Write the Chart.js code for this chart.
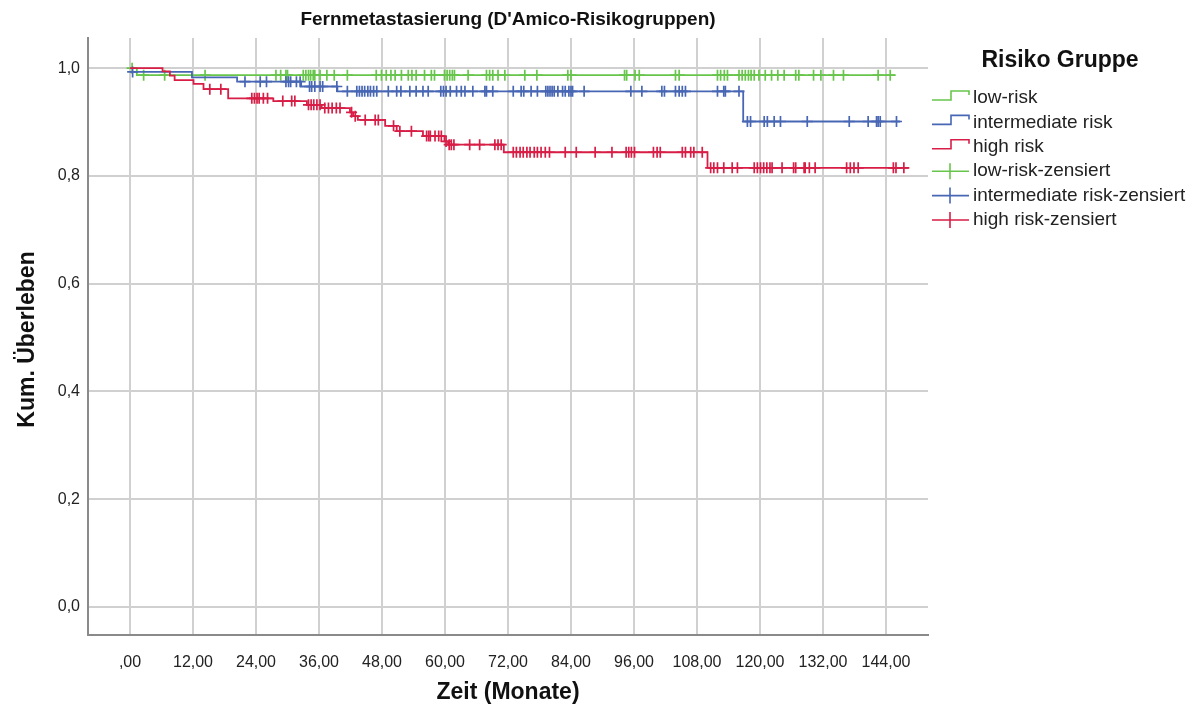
<!DOCTYPE html>
<html>
<head>
<meta charset="utf-8">
<script src="https://cdn.jsdelivr.net/npm/chart.js@4/dist/chart.umd.min.js"></script>
<style>
  html, body { margin: 0; padding: 0; background: #ffffff; }
  #wrap { width: 1200px; height: 711px; position: relative; }
</style>
</head>
<body>
<div id="wrap"><canvas id="c" width="1200" height="711"></canvas></div>
<script>
// ---------- DATA ----------
const chartTitle = "Fernmetastasierung (D'Amico-Risikogruppen)";
const xAxisTitle = "Zeit (Monate)";
const yAxisTitle = "Kum. Überleben";
const legendTitle = "Risiko Gruppe";
const groupNames = ["low-risk", "intermediate risk", "high risk"];
const censorSuffix = "-zensiert";

const xTicks = [0, 12, 24, 36, 48, 60, 72, 84, 96, 108, 120, 132, 144];
const yTicks = [0, 0.2, 0.4, 0.6, 0.8, 1.0];

// step-function points: event times (months) and survival after them; last entry = end of follow-up
const lowTimes = [0, 1.3, 145.7];
const lowSurv  = [1.0, 0.987, 0.987];

const intTimes = [0, 11.8, 20.4, 32.6, 39.5, 116.8, 146.7];
const intSurv  = [0.993, 0.983, 0.975, 0.966, 0.957, 0.901, 0.901];

const highTimes = [0, 6.2, 7.6, 8.5, 12.1, 14.0, 18.7, 27.3, 33.7, 36.5, 41.9, 42.5, 43.4, 48.6, 50.8, 55.8, 59.9, 60.6, 71.2, 110.0, 148.3];
const highSurv  = [1.0, 0.994, 0.986, 0.978, 0.971, 0.961, 0.944, 0.939, 0.932, 0.926, 0.918, 0.911, 0.904, 0.893, 0.883, 0.874, 0.864, 0.858, 0.844, 0.815, 0.815];

// censored observations (months)
const lowCensor = [0.4, 2.6, 6.6, 14.3, 27.8, 28.7, 29.7, 30.0, 33.0, 33.5, 34.0, 34.4, 34.9, 35.2, 36.2, 37.5, 38.9, 41.4,
  46.9, 47.9, 48.8, 49.7, 50.5, 51.7, 53.0, 53.7, 54.5, 56.1, 57.4, 58.0, 59.9, 60.4, 60.9, 61.4, 61.8, 64.4,
  67.9, 68.5, 69.1, 70.1, 71.4, 75.2, 77.5, 83.4, 84.0, 94.2, 94.6, 96.2, 97.0, 103.9, 104.6,
  111.9, 112.5, 113.2, 113.8, 116.0, 116.6, 117.2, 117.8, 118.3, 118.9, 119.8, 121.0, 122.2, 123.4, 124.6,
  126.8, 127.4, 130.2, 131.6, 134.0, 135.9, 142.5, 144.8];

const intCensor = [0.5, 21.9, 24.8, 26.0, 29.7, 30.2, 30.6, 31.7, 32.4, 34.2, 34.6, 35.2, 36.2, 36.7, 39.4, 41.4,
  43.2, 43.7, 44.2, 44.7, 45.3, 45.8, 46.4, 47.0, 49.2, 50.8, 51.6, 53.3, 54.5, 55.8, 56.8, 59.2, 59.7, 60.2, 61.0,
  62.2, 63.1, 63.8, 65.3, 67.6, 67.9, 69.1, 73.0, 74.5, 75.0, 76.4, 77.6, 79.2, 79.6, 80.0, 80.4, 80.8, 81.5,
  82.4, 82.9, 83.6, 84.0, 84.3, 86.5, 95.4, 97.5, 101.3, 101.8, 103.9, 104.6, 105.2, 105.8, 111.9, 113.1, 113.4, 116.0,
  117.6, 118.2, 120.8, 121.4, 122.7, 123.9, 129.0, 137.0, 140.6, 142.2, 142.5, 142.9, 146.0];

const highCensor = [15.2, 17.3, 23.2, 23.7, 24.2, 24.6, 25.4, 26.2, 29.1, 30.8, 31.4, 34.0, 34.5, 35.0, 35.6, 36.2,
  37.1, 37.8, 38.5, 39.3, 40.0, 42.2, 42.9, 44.8, 46.7, 47.3, 50.2, 51.4, 53.6, 56.5, 56.9, 57.2, 58.1, 58.8, 59.3,
  60.2, 60.8, 61.2, 61.7, 64.7, 66.6, 69.5, 70.1, 70.7, 73.0, 73.6, 74.3, 74.9, 75.6, 76.2, 77.0, 77.6, 78.3, 79.1, 79.9,
  82.9, 85.0, 88.6, 91.8, 94.5, 95.0, 95.5, 96.1, 99.7, 100.4, 101.0, 105.2, 105.8, 106.8, 107.4, 109.0,
  110.6, 111.2, 111.9, 113.1, 114.7, 115.7, 118.9, 119.5, 120.1, 120.7, 121.3, 121.9, 122.3, 124.2, 126.4, 126.8,
  128.4, 128.6, 129.4, 130.5, 136.5, 137.2, 137.9, 138.7, 145.4, 145.9, 147.4];

// ---------- STYLE ----------
const colLow = '#68c54c';
const colInt = '#4766b4';
const colHigh = '#d81e46';
const FONT = "'Liberation Sans', Arial, sans-serif";

// ---------- helpers ----------
function stepPoints(times, surv) { return times.map((t, i) => ({ x: t, y: surv[i] })); }
function survAt(times, surv, t) {
  let s = surv[0];
  for (let i = 0; i < times.length; i++) { if (times[i] <= t) s = surv[i]; }
  return s;
}
function censorPoints(cens, times, surv) { return cens.map(t => ({ x: t, y: survAt(times, surv, t) })); }
function fmtX(v) { if (v === 0) return ',00'; return v.toFixed(2).replace('.', ','); }
function fmtY(v) { return v.toFixed(1).replace('.', ','); }

function lineDS(label, pts, col, order) {
  return { type: 'line', label, data: pts, borderColor: col, backgroundColor: col, borderWidth: 1.8,
    stepped: 'before', pointRadius: 0, pointHoverRadius: 0, fill: false, order };
}
function censDS(label, pts, col, order) {
  return { type: 'scatter', label, data: pts, borderColor: col, backgroundColor: col, pointStyle: 'cross',
    pointRadius: 5.5, pointHoverRadius: 5.5, pointBorderWidth: 1.7, showLine: false, order };
}

const textPlugin = {
  id: 'texts',
  afterDraw(chart) {
    const ctx = chart.ctx;
    const ca = chart.chartArea;
    ctx.save();
    ctx.fillStyle = '#111';
    ctx.textAlign = 'center';
    ctx.textBaseline = 'middle';
    ctx.font = 'bold 19px ' + FONT;
    ctx.fillText(chartTitle, (ca.left + ca.right) / 2, 20);
    ctx.font = 'bold 23px ' + FONT;
    ctx.fillText(xAxisTitle, (ca.left + ca.right) / 2, 693);
    ctx.save();
    ctx.translate(28, (ca.top + ca.bottom) / 2 + 3);
    ctx.rotate(-Math.PI / 2);
    ctx.fillText(yAxisTitle, 0, 0);
    ctx.restore();

    // legend
    ctx.font = 'bold 23px ' + FONT;
    ctx.fillText(legendTitle, 1060, 61);
    const cols = [colLow, colInt, colHigh];
    const labels = groupNames.concat(groupNames.map(n => n + censorSuffix));
    ctx.font = '19px ' + FONT;
    ctx.textAlign = 'left';
    for (let i = 0; i < 6; i++) {
      const y = 98 + i * 24.4;
      const c = cols[i % 3];
      ctx.strokeStyle = c;
      ctx.lineWidth = 1.6;
      ctx.beginPath();
      if (i < 3) {
        ctx.moveTo(932, y + 2); ctx.lineTo(951, y + 2); ctx.lineTo(951, y - 7);
        ctx.lineTo(969, y - 7); ctx.lineTo(969, y - 3);
      } else {
        ctx.moveTo(932, y); ctx.lineTo(969, y);
        ctx.moveTo(950, y - 8); ctx.lineTo(950, y + 8);
      }
      ctx.stroke();
      ctx.fillStyle = '#222';
      ctx.fillText(labels[i], 973, y);
    }
    ctx.restore();
  }
};

new Chart(document.getElementById('c'), {
  data: {
    datasets: [
      lineDS(groupNames[0], stepPoints(lowTimes, lowSurv), colLow, 5),
      lineDS(groupNames[1], stepPoints(intTimes, intSurv), colInt, 3),
      lineDS(groupNames[2], stepPoints(highTimes, highSurv), colHigh, 1),
      censDS(groupNames[0] + censorSuffix, censorPoints(lowCensor, lowTimes, lowSurv), colLow, 4),
      censDS(groupNames[1] + censorSuffix, censorPoints(intCensor, intTimes, intSurv), colInt, 2),
      censDS(groupNames[2] + censorSuffix, censorPoints(highCensor, highTimes, highSurv), colHigh, 0)
    ]
  },
  options: {
    responsive: false,
    maintainAspectRatio: false,
    animation: false,
    events: [],
    layout: { padding: { top: 38, right: 272, left: 0, bottom: 0 } },
    plugins: { legend: { display: false }, title: { display: false }, tooltip: { enabled: false } },
    scales: {
      x: {
        type: 'linear', min: -8, max: 152,
        afterBuildTicks: s => { s.ticks = xTicks.map(v => ({ value: v })); },
        afterFit: s => { s.height = 76; },
        grid: { color: '#d0d0d0', lineWidth: 2, drawTicks: false },
        border: { color: '#8a8a8a', width: 2 },
        ticks: { padding: 18, autoSkip: false, maxRotation: 0, color: '#222',
          font: { family: FONT, size: 16 }, callback: v => fmtX(v) }
      },
      y: {
        type: 'linear', min: -0.052, max: 1.056,
        afterBuildTicks: s => { s.ticks = yTicks.map(v => ({ value: v })); },
        afterFit: s => { s.width = 88; },
        grid: { color: '#d0d0d0', lineWidth: 2, drawTicks: false },
        border: { color: '#8a8a8a', width: 2 },
        ticks: { padding: 8, color: '#222', font: { family: FONT, size: 16 }, callback: v => fmtY(v) }
      }
    }
  },
  plugins: [textPlugin]
});
</script>
</body>
</html>
